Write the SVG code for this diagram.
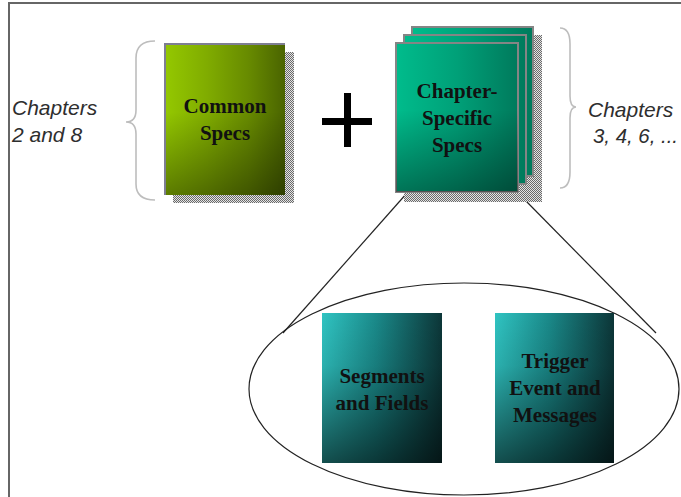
<svg xmlns="http://www.w3.org/2000/svg" width="681" height="497" viewBox="0 0 681 497">
  <style>
    .frame { stroke: #666; stroke-width: 2; fill: none; }
    .brace { stroke: #bdbdbd; stroke-width: 1.6; fill: none; }
    .side { font-family: "Liberation Sans", Arial, sans-serif; font-style: italic; font-size: 21px; fill: #2e2e2e; }
    .label { font-family: "Liberation Serif", "Times New Roman", serif; font-weight: bold; font-size: 21px; fill: #111; text-anchor: middle; }
    .page { stroke: #858585; stroke-width: 2; }
    .link { stroke: #222; stroke-width: 1.2; fill: none; }
  </style>
  <defs>
    <pattern id="dots" width="2" height="2" patternUnits="userSpaceOnUse">
      <rect width="2" height="2" fill="#e4e4e4"/>
      <rect width="1" height="1" fill="#6a6a6a"/>
      <rect x="1" y="1" width="1" height="1" fill="#6a6a6a"/>
    </pattern>
    <linearGradient id="olive" x1="0" y1="0" x2="1" y2="0">
      <stop offset="0" stop-color="#94c800"/>
      <stop offset="0.35" stop-color="#80ac00"/>
      <stop offset="0.7" stop-color="#678a00"/>
      <stop offset="1" stop-color="#4a6400"/>
    </linearGradient>
    <linearGradient id="teal" x1="0" y1="0" x2="1" y2="0">
      <stop offset="0" stop-color="#00bc8c"/>
      <stop offset="0.5" stop-color="#00a078"/>
      <stop offset="1" stop-color="#007a5c"/>
    </linearGradient>
    <linearGradient id="cyan" x1="0" y1="0" x2="1" y2="0">
      <stop offset="0" stop-color="#30c4c2"/>
      <stop offset="0.45" stop-color="#1a8a8a"/>
      <stop offset="1" stop-color="#0c3638"/>
    </linearGradient>
    <linearGradient id="shade" x1="0" y1="0" x2="0" y2="1">
      <stop offset="0" stop-color="#000" stop-opacity="0"/>
      <stop offset="0.45" stop-color="#000" stop-opacity="0"/>
      <stop offset="1" stop-color="#000" stop-opacity="0.38"/>
    </linearGradient>
    <linearGradient id="shadeDeep" x1="0" y1="0" x2="0" y2="1">
      <stop offset="0" stop-color="#000" stop-opacity="0"/>
      <stop offset="0.35" stop-color="#000" stop-opacity="0.1"/>
      <stop offset="1" stop-color="#000" stop-opacity="0.6"/>
    </linearGradient>
  </defs>

  <rect width="681" height="497" fill="#fff"/>
  <!-- page frame: top and left edges -->
  <path class="frame" d="M9,497 V3 H681"/>

  <!-- braces -->
  <path class="brace" d="M155,41 Q136,41 136,58 L136,110 Q136,122 126,122 Q136,122 136,134 L136,184 Q136,200 155,200"/>
  <path class="brace" d="M560,28 Q570,28 570,44 L570,96 Q570,107 576,107 Q570,107 570,118 L570,172 Q570,188 560,188"/>

  <!-- side notes -->
  <text class="side" x="12" y="115">Chapters</text>
  <text class="side" x="12" y="142">2 and 8</text>
  <text class="side" x="588" y="117">Chapters</text>
  <text class="side" x="593" y="143" textLength="85" lengthAdjust="spacingAndGlyphs">3, 4, 6, ...</text>

  <!-- plus sign -->
  <g id="plus">
    <rect x="322" y="118" width="50" height="7" fill="#000"/>
    <rect x="344" y="93" width="7" height="54" fill="#000"/>
  </g>

  <!-- connectors: zoom lines into the detail ellipse -->
  <g id="connectors">
    <path class="link" d="M407,193 L283,333"/>
    <path class="link" d="M525,200 L656,333"/>
    <ellipse class="link" cx="464" cy="389" rx="215" ry="106"/>
  </g>

  <g id="common-specs">
    <rect x="173" y="52" width="121" height="151" fill="url(#dots)"/>
    <rect x="165" y="44" width="120" height="151" fill="url(#olive)"/>
    <rect x="165" y="44" width="120" height="151" fill="url(#shade)"/>
    <path d="M165,195 V44 H285" fill="none" stroke="#7e7e92" stroke-width="2"/>
    <text class="label" x="225" y="113">Common</text>
    <text class="label" x="225" y="140">Specs</text>
  </g>

  <g id="chapter-specific-specs">
    <rect x="420" y="35" width="122" height="167" fill="url(#dots)"/>
    <rect x="404" y="185" width="122" height="17" fill="url(#dots)"/>
    <rect x="412" y="27" width="121" height="149" fill="url(#teal)" class="page"/>
    <rect x="404" y="35" width="122" height="149" fill="url(#teal)" class="page"/>
    <rect x="396" y="43" width="122" height="149" fill="url(#teal)" class="page"/>
    <rect x="396" y="43" width="122" height="149" fill="url(#shade)"/>
    <text class="label" x="457" y="98">Chapter-</text>
    <text class="label" x="457" y="125">Specific</text>
    <text class="label" x="457" y="152">Specs</text>
  </g>

  <g id="segments-and-fields">
    <rect x="322" y="313" width="120" height="150" fill="url(#cyan)"/>
    <rect x="322" y="313" width="120" height="150" fill="url(#shadeDeep)"/>
    <text class="label" x="382" y="383">Segments</text>
    <text class="label" x="382" y="410">and Fields</text>
  </g>

  <g id="trigger-event-and-messages">
    <rect x="495" y="313" width="119" height="150" fill="url(#cyan)"/>
    <rect x="495" y="313" width="119" height="150" fill="url(#shadeDeep)"/>
    <text class="label" x="555" y="368">Trigger</text>
    <text class="label" x="555" y="395">Event and</text>
    <text class="label" x="555" y="422">Messages</text>
  </g>
</svg>
